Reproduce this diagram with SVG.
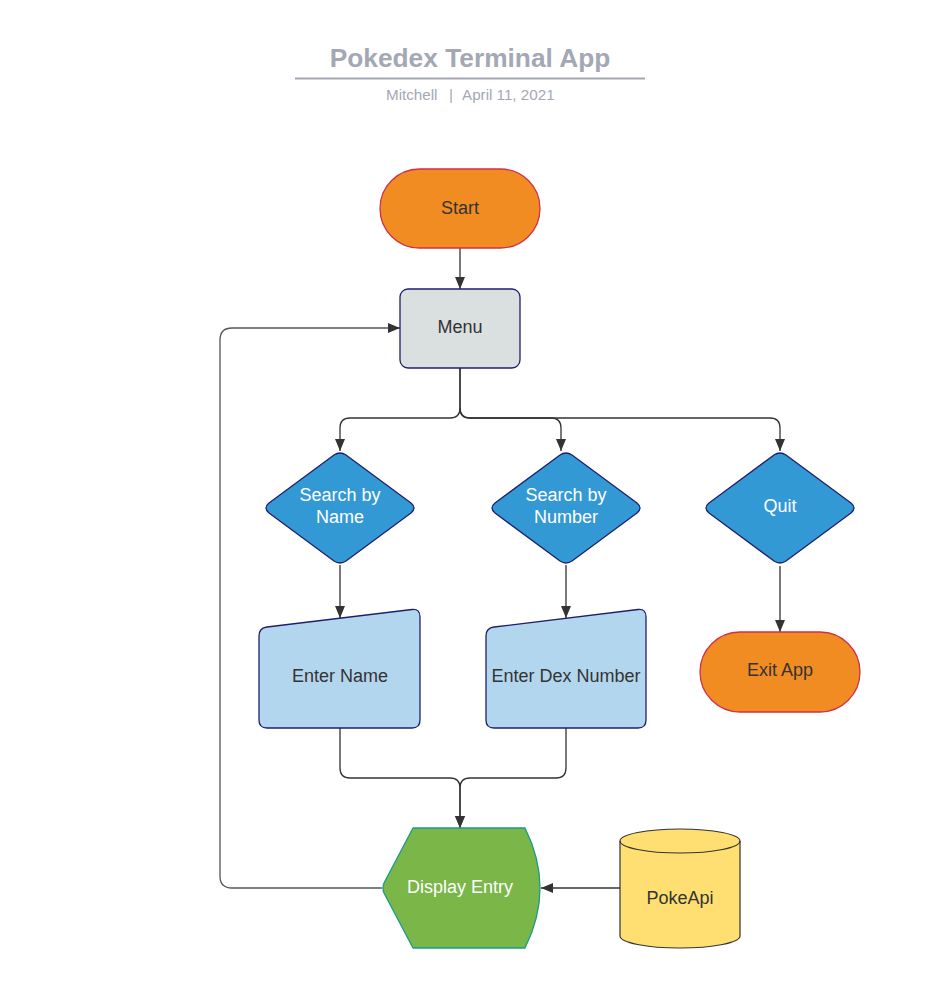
<svg xmlns="http://www.w3.org/2000/svg" width="934" height="989" viewBox="0 0 934 989">
<style>
text{font-family:"Liberation Sans",Arial,sans-serif;}
.lbl{font-size:18px;fill:#333333;text-anchor:middle;}
.wht{font-size:18px;fill:#ffffff;text-anchor:middle;}
.term{fill:#f18c23;stroke:#d1304b;stroke-width:1.3;}
.dia{fill:#3399d4;stroke:#1f1f6e;stroke-width:1.3;stroke-linejoin:round;}
.inp{fill:#b3d6ef;stroke:#1f1f6e;stroke-width:1.3;}
.conn path{fill:none;stroke:#333333;stroke-width:1.3;}
</style>
<defs>
<marker id="ah" viewBox="0 0 12 10" refX="12" refY="5" markerWidth="12" markerHeight="10" markerUnits="userSpaceOnUse" orient="auto">
<path d="M0,0 L12,5 L0,10 Z" fill="#333333"/>
</marker>
</defs>
<rect width="934" height="989" fill="#ffffff"/>
<g id="title">
<text x="470" y="67" text-anchor="middle" font-size="26.3" font-weight="bold" fill="#a3a8b4">Pokedex Terminal App</text>
<line x1="295" y1="78.5" x2="645" y2="78.5" stroke="#a3a8b4" stroke-width="2"/>
<text y="100" font-size="15.2" fill="#a3a8b4"><tspan x="386">Mitchell</tspan><tspan x="449">|</tspan><tspan x="462">April 11, 2021</tspan></text>
</g>
<g class="conn">
<path d="M460,248 L460,289" marker-end="url(#ah)"/>
<path d="M460,368 L460,408 Q460,418 450,418 L350,418 Q340,418 340,428 L340,451" marker-end="url(#ah)"/>
<path d="M460,368 L460,408 Q460,418 470,418 L551,418 Q561,418 561,428 L561,451" marker-end="url(#ah)"/>
<path d="M460,408 Q460,418 470,418 L770,418 Q780,418 780,428 L780,451" marker-end="url(#ah)"/>
<path d="M340,565 L340,618" marker-end="url(#ah)"/>
<path d="M566,565 L566,618" marker-end="url(#ah)"/>
<path d="M780,566 L780,632" marker-end="url(#ah)"/>
<path d="M340,728 L340,768 Q340,778 350,778 L450,778 Q460,778 460,788 L460,828" marker-end="url(#ah)"/>
<path d="M566,728 L566,768 Q566,778 556,778 L470,778 Q460,778 460,788 L460,828" marker-end="url(#ah)"/>
<path d="M620,888 L541,888" marker-end="url(#ah)"/>
<path d="M382,888 L232,888 Q220,888 220,876 L220,340 Q220,328 232,328 L400,328" marker-end="url(#ah)" style="stroke:#555555"/>
</g>
<g id="start">
<rect x="380" y="169" width="160" height="79" rx="39.5" class="term"/>
<text x="460" y="214" class="lbl">Start</text>
</g>
<g id="menu">
<rect x="400" y="289" width="120" height="79" rx="8" fill="#dadfe0" stroke="#1f1f6e" stroke-width="1.3"/>
<text x="460" y="333" class="lbl">Menu</text>
</g>
<g id="search-name">
<path d="M334,455 Q340,451 346,455 L411,503 Q417,508 411,513 L346,561 Q340,565 334,561 L269,513 Q263,508 269,503 Z" class="dia"/>
<text x="340" y="501" class="wht">Search by</text>
<text x="340" y="523" class="wht">Name</text>
</g>
<g id="search-number">
<path d="M560,455 Q566,451 572,455 L637,503 Q643,508 637,513 L572,561 Q566,565 560,561 L495,513 Q489,508 495,503 Z" class="dia"/>
<text x="566" y="501" class="wht">Search by</text>
<text x="566" y="523" class="wht">Number</text>
</g>
<g id="quit">
<path d="M774,455 Q780,451 786,455 L851,503 Q857,508 851,513 L786,561 Q780,565 774,561 L709,513 Q703,508 709,503 Z" class="dia"/>
<text x="780" y="512" class="wht">Quit</text>
</g>
<g id="enter-name">
<path d="M267,627 L412,609.5 Q420,608.5 420,617 L420,720 Q420,728 412,728 L267,728 Q259,728 259,720 L259,636 Q259,628 267,627 Z" class="inp"/>
<text x="340" y="682" class="lbl">Enter Name</text>
</g>
<g id="enter-dex">
<path d="M494,627 L638,609.5 Q646,608.5 646,617 L646,720 Q646,728 638,728 L494,728 Q486,728 486,720 L486,636 Q486,628 494,627 Z" class="inp"/>
<text x="566" y="682" class="lbl">Enter Dex Number</text>
</g>
<g id="exit-app">
<rect x="700" y="632" width="160" height="80" rx="40" class="term"/>
<text x="780" y="676" class="lbl">Exit App</text>
</g>
<g id="display-entry">
<path d="M413,828 L525,828 Q555,888 525,948 L413,948 L384,893 Q382,888 384,883 Z" fill="#7ab648" stroke="#1a9a8a" stroke-width="1.3" stroke-linejoin="round"/>
<text x="460" y="893" class="wht">Display Entry</text>
</g>
<g id="pokeapi">
<path d="M620,841 L620,936 A60,12 0 0 0 740,936 L740,841 A60,12 0 0 0 620,841 Z" fill="#ffdf71" stroke="#333333" stroke-width="1.2"/>
<path d="M620,841 A60,12 0 0 0 740,841" fill="none" stroke="#333333" stroke-width="1.2"/>
<text x="680" y="904" class="lbl">PokeApi</text>
</g>
</svg>
